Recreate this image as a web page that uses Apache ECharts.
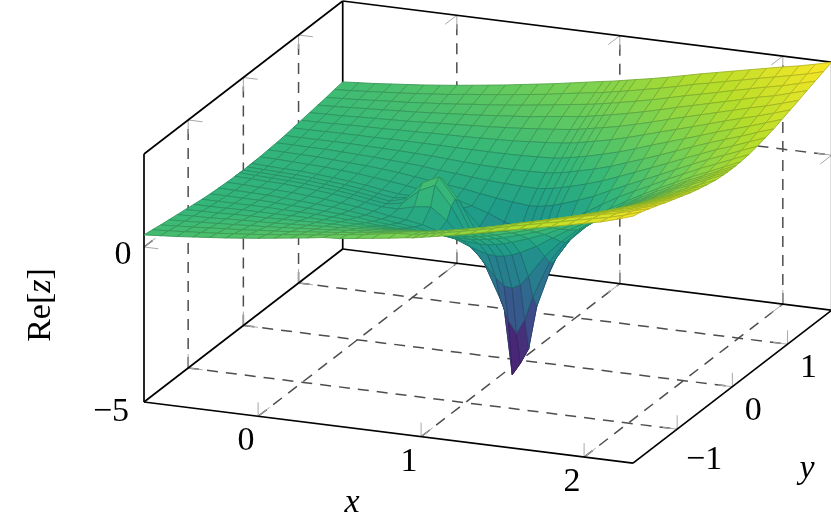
<!DOCTYPE html>
<html>
<head>
<meta charset="utf-8">
<style>html,body{margin:0;padding:0;background:#fff}#c{width:831px;height:525px}</style>
<script src="https://cdn.jsdelivr.net/npm/echarts@6/dist/echarts.min.js"></script>
</head>
<body>
<div id="c"></div>
<script>
const xValues = [-0.7,-0.6,-0.5,-0.4,-0.3,-0.2,-0.1,0,0.1,0.2,0.3,0.4,0.5,0.6,0.7,0.8,0.9,0.95,1,1.05,1.1,1.2,1.3,1.4,1.5,1.6,1.7,1.8,1.9,2,2.1,2.2,2.3];
const yValues = [1.8,1.65,1.5,1.35,1.2,1.05,0.9,0.75,0.6,0.45,0.3,0.15,0.07,0,-0.07,-0.15,-0.3,-0.45,-0.6,-0.75,-0.9,-1.05,-1.2,-1.35,-1.5,-1.65,-1.8];
const zValues = [
[.39,.43,.47,.52,.57,.62,.68,.74,.81,.88,.95,1.03,1.11,1.19,1.28,1.37,1.46,1.50,1.55,1.60,1.65,1.75,1.86,1.98,2.10,2.21,2.32,2.43,2.54,2.65,2.75,2.87,3.0],
[.35,.38,.42,.46,.50,.55,.60,.65,.72,.78,.84,.91,.98,1.05,1.14,1.22,1.30,1.34,1.39,1.44,1.49,1.60,1.71,1.83,1.96,2.07,2.19,2.30,2.42,2.53,2.64,2.76,2.90],
[.30,.33,.36,.40,.44,.47,.52,.56,.61,.67,.72,.78,.84,.91,.98,1.06,1.13,1.17,1.22,1.27,1.32,1.43,1.54,1.67,1.80,1.92,2.04,2.17,2.29,2.41,2.52,2.66,2.80],
[.26,.28,.31,.34,.37,.40,.43,.47,.51,.55,.59,.64,.69,.74,.81,.88,.94,.98,1.03,1.08,1.13,1.24,1.36,1.49,1.63,1.76,1.89,2.02,2.15,2.29,2.40,2.55,2.70],
[.22,.24,.25,.28,.30,.32,.34,.37,.40,.43,.46,.49,.53,.57,.62,.67,.73,.77,.82,.87,.92,1.03,1.16,1.30,1.45,1.59,1.73,1.87,2.01,2.15,2.28,2.43,2.59],
[.18,.19,.20,.22,.23,.24,.26,.27,.29,.30,.31,.33,.35,.37,.41,.45,.50,.53,.58,.63,.69,.80,.94,1.09,1.25,1.40,1.55,1.71,1.87,2.02,2.16,2.32,2.49],
[.14,.14,.15,.16,.16,.16,.17,.17,.17,.17,.16,.16,.16,.16,.17,.19,.22,.25,.30,.35,.41,.54,.68,.85,1.03,1.20,1.37,1.54,1.72,1.88,2.04,2.21,2.39],
[.10,.10,.10,.10,.10,.09,.08,.07,.05,.03,.00,-.03,-.06,-.07,-.08,-.07,-.05,-.02,.02,.08,.14,.27,.42,.61,.79,.98,1.18,1.38,1.57,1.75,1.92,2.11,2.29],
[.07,.07,.06,.06,.04,.02,.00,-.03,-.06,-.10,-.16,-.20,-.25,-.29,-.32,-.34,-.35,-.32,-.28,-.22,-.16,-.01,.16,.36,.57,.78,.99,1.21,1.42,1.63,1.81,2.01,2.21],
[.05,.04,.03,.02,-.01,-.04,-.07,-.11,-.16,-.23,-.29,-.36,-.42,-.51,-.59,-.65,-.70,-.69,-.65,-.59,-.51,-.33,-.13,.12,.36,.59,.82,1.06,1.29,1.52,1.72,1.93,2.14],
[.03,.02,.00,-.02,-.04,-.08,-.12,-.18,-.24,-.31,-.40,-.46,-.55,-.70,-.87,-1.08,-1.24,-1.26,-1.23,-1.16,-1.05,-.78,-.44,-.12,.18,.44,.69,.95,1.19,1.43,1.64,1.86,2.08],
[.02,.00,-.02,-.03,-.07,-.11,-.16,-.22,-.30,-.37,-.38,-.24,-.18,-.56,-1.09,-1.59,-2.21,-2.43,-2.47,-2.33,-2.02,-1.31,-.77,-.33,.02,.32,.60,.87,1.12,1.37,1.59,1.82,2.05],
[.02,.00,-.02,-.04,-.07,-.12,-.16,-.23,-.31,-.39,-.30,.16,.41,-.22,-1.11,-1.89,-2.99,-3.67,-4.05,-3.57,-2.80,-1.62,-.90,-.40,-.04,.30,.58,.85,1.10,1.35,1.58,1.81,2.04],
[.01,.00,-.02,-.04,-.07,-.12,-.17,-.24,-.32,-.40,-.25,.33,.58,-.07,-1.10,-1.99,-3.39,-5.5,-5.1,-4.6,-3.20,-1.72,-.94,-.44,-.05,.29,.57,.84,1.09,1.35,1.58,1.81,2.04],
[.02,.00,-.02,-.04,-.07,-.12,-.16,-.23,-.31,-.39,-.30,.16,.41,-.22,-1.11,-1.89,-2.99,-3.67,-4.05,-3.57,-2.80,-1.62,-.90,-.40,-.04,.30,.58,.85,1.10,1.35,1.58,1.81,2.04],
[.02,.00,-.02,-.03,-.07,-.11,-.16,-.22,-.30,-.37,-.38,-.24,-.18,-.56,-1.09,-1.59,-2.21,-2.43,-2.47,-2.33,-2.02,-1.31,-.77,-.33,.02,.32,.60,.87,1.12,1.37,1.59,1.82,2.05],
[.03,.02,.00,-.02,-.04,-.08,-.12,-.18,-.24,-.31,-.40,-.46,-.55,-.70,-.87,-1.08,-1.24,-1.26,-1.23,-1.16,-1.05,-.78,-.44,-.12,.18,.44,.69,.95,1.19,1.43,1.64,1.86,2.08],
[.05,.04,.03,.02,-.01,-.04,-.07,-.11,-.16,-.23,-.29,-.36,-.42,-.51,-.59,-.65,-.70,-.69,-.65,-.59,-.51,-.33,-.13,.12,.36,.59,.82,1.06,1.29,1.52,1.72,1.93,2.14],
[.07,.07,.06,.06,.04,.02,.00,-.03,-.06,-.10,-.16,-.20,-.25,-.29,-.32,-.34,-.35,-.32,-.28,-.22,-.16,-.01,.16,.36,.57,.78,.99,1.21,1.42,1.63,1.81,2.01,2.21],
[.10,.10,.10,.10,.10,.09,.08,.07,.05,.03,.00,-.03,-.06,-.07,-.08,-.07,-.05,-.02,.02,.08,.14,.27,.42,.61,.79,.98,1.18,1.38,1.57,1.75,1.92,2.11,2.29],
[.14,.14,.15,.16,.16,.16,.17,.17,.17,.17,.16,.16,.16,.16,.17,.19,.22,.25,.30,.35,.41,.54,.68,.85,1.03,1.20,1.37,1.54,1.72,1.88,2.04,2.21,2.39],
[.18,.19,.20,.22,.23,.24,.26,.27,.29,.30,.31,.33,.35,.37,.41,.45,.50,.53,.58,.63,.69,.80,.94,1.09,1.25,1.40,1.55,1.71,1.87,2.02,2.16,2.32,2.49],
[.22,.24,.25,.28,.30,.32,.34,.37,.40,.43,.46,.49,.53,.57,.62,.67,.73,.77,.82,.87,.92,1.03,1.16,1.30,1.45,1.59,1.73,1.87,2.01,2.15,2.28,2.43,2.59],
[.26,.28,.31,.34,.37,.40,.43,.47,.51,.55,.59,.64,.69,.74,.81,.88,.94,.98,1.03,1.08,1.13,1.24,1.36,1.49,1.63,1.76,1.89,2.02,2.15,2.29,2.40,2.55,2.70],
[.30,.33,.36,.40,.44,.47,.52,.56,.61,.67,.72,.78,.84,.91,.98,1.06,1.13,1.17,1.22,1.27,1.32,1.43,1.54,1.67,1.80,1.92,2.04,2.17,2.29,2.41,2.52,2.66,2.80],
[.35,.38,.42,.46,.50,.55,.60,.65,.72,.78,.84,.91,.98,1.05,1.14,1.22,1.25,1.29,1.34,1.39,1.44,1.55,1.66,1.78,1.91,2.02,2.14,2.25,2.37,2.48,2.59,2.73,2.90],
[.39,.43,.47,.52,.57,.62,.68,.74,.81,.88,.95,1.03,1.06,1.13,1.20,1.27,1.35,1.38,1.43,1.48,1.53,1.63,1.74,1.86,1.98,2.09,2.20,2.31,2.42,2.54,2.65,2.80,2.97]
];
const xTicks = [0,1,2];
const yTicks = [-1,0,1];
const zTicks = [-5,0];
const xRange = [-0.7,2.3], yRange = [-1.8,1.8], zRange = [-5,3];
const viridis = ['#440154','#482878','#3e4a89','#31688e','#26828e','#1f9e89','#35b779','#6ece58','#b5de2b','#fde725'];
const colorRange = [-5.5,3];

const [x0,x1]=xRange,[y0,y1]=yRange,[z0,z1]=zRange;
function project(x,y,z){
  return [144+163*(x-x0)+55.2*(y-y0), 402+20.4*(x-x0)-42.5*(y-y0)-31*(z-z0)];
}
function hex(c){return [1,3,5].map(k=>parseInt(c.substr(k,2),16));}
function colorOf(z,dark){
  let t=(z-colorRange[0])/(colorRange[1]-colorRange[0]);
  t=Math.max(0,Math.min(1,t))*(viridis.length-1);
  const i=Math.min(viridis.length-2,Math.floor(t)),f=t-i;
  const a=hex(viridis[i]),b=hex(viridis[i+1]);
  const m=a.map((v,k)=>Math.round((v+(b[k]-v)*f)*dark));
  return 'rgb('+m.join(',')+')';
}

const gridLines=[],tickMarks=[];
const dx=0.088,dy=0.21,dz=0.45;
function tick(x,y,z,a,b,c){tickMarks.push([x,y,z,x+a,y+b,z+c]);}
xTicks.forEach(x=>{
  gridLines.push([x,y0,z0,x,y1,z0],[x,y1,z0,x,y1,z1]);
  tick(x,y0,z0,0,dy,0);tick(x,y0,z0,0,0,dz);
  tick(x,y1,z0,0,-dy,0);tick(x,y1,z0,0,0,dz);
  tick(x,y1,z1,0,-dy,0);tick(x,y1,z1,0,0,-dz);
});
yTicks.forEach(y=>{
  gridLines.push([x0,y,z0,x1,y,z0],[x0,y,z0,x0,y,z1]);
  tick(x1,y,z0,-dx,0,0);tick(x1,y,z0,0,0,dz);
  tick(x0,y,z0,dx,0,0);tick(x0,y,z0,0,0,dz);
  tick(x0,y,z1,dx,0,0);tick(x0,y,z1,0,0,-dz);
});
zTicks.filter(z=>z>z0).forEach(z=>{
  gridLines.push([x0,y0,z,x0,y1,z],[x0,y1,z,x1,y1,z]);
  tick(x0,y0,z,dx,0,0);tick(x0,y0,z,0,dy,0);
  tick(x1,y1,z,-dx,0,0);tick(x1,y1,z,0,-dy,0);
});
const backFrame=[
  [x0,y0,z0,x0,y1,z0],[x0,y1,z0,x1,y1,z0],[x0,y1,z0,x0,y1,z1],
  [x0,y0,z1,x0,y1,z1],[x0,y1,z1,x1,y1,z1],[x0,y0,z0,x0,y0,z1],[x1,y1,z0,x1,y1,z1]
];
const frontFrame=[[x0,y0,z0,x1,y0,z0],[x1,y0,z0,x1,y1,z0]];

function lineSeries(data,style,z){
  return {type:'custom',coordinateSystem:'cartesian2d',z:z,silent:true,clip:false,animation:false,
    data:data.map((s,i)=>[i]),
    renderItem(params,api){
      const s=data[api.value(0)];
      const a=api.coord(project(s[0],s[1],s[2])),b=api.coord(project(s[3],s[4],s[5]));
      return {type:'line',shape:{x1:a[0],y1:a[1],x2:b[0],y2:b[1]},style:style};
    }};
}

const cells=[];
for(let j=0;j<yValues.length-1;j++)for(let i=0;i<xValues.length-1;i++)cells.push([i,j]);

const surface={type:'custom',coordinateSystem:'cartesian2d',z:3,silent:true,clip:false,animation:false,
  data:cells,
  renderItem(params,api){
    const i=api.value(0),j=api.value(1);
    const corners=[[i,j],[i+1,j],[i+1,j+1],[i,j+1]];
    let sum=0;
    const pts=corners.map(([a,b])=>{const z=zValues[b][a];sum+=z;return api.coord(project(xValues[a],yValues[b],z));});
    const m=sum/4;
    return {type:'polygon',shape:{points:pts},style:{fill:colorOf(m,1),stroke:colorOf(m,0.8),lineWidth:0.9,lineJoin:'round'}};
  }};

const FONT='"Liberation Serif","DejaVu Serif",serif';
const FS=34;
const labels=[];
xTicks.forEach(x=>{const p=project(x,y0,z0);labels.push({t:String(x),dx:-12,dy:25,p});});
yTicks.forEach(y=>{const p=project(x1,y,z0);labels.push({t:String(y).replace('-','\u2212'),dx:y<0?27:21,dy:y<0?31:24,p});});
zTicks.forEach(z=>{const p=project(x0,y0,z);labels.push({t:String(z).replace('-','\u2212'),dx:z<0?-33:-21,dy:z<0?10:8,p});});
const axisNames=[
  {t:'x',x:352,y:503,it:true},
  {t:'y',x:807,y:469,it:true},
  {t:'Re[{i|z}]',x:41,y:305,rot:Math.PI/2}
];
const textSeries={type:'custom',coordinateSystem:'cartesian2d',z:5,silent:true,clip:false,animation:false,
  data:labels.concat(axisNames).map((s,i)=>[i]),
  renderItem(params,api){
    const n=api.value(0);
    if(n<labels.length){
      const l=labels[n],c=api.coord([l.p[0]+l.dx,l.p[1]+l.dy]);
      return {type:'text',style:{text:l.t,x:c[0],y:c[1],font:FS+'px '+FONT,fill:'#000',align:'center',verticalAlign:'middle'}};
    }
    const a=axisNames[n-labels.length],c=api.coord([a.x,a.y]);
    return {type:'text',x:c[0],y:c[1],rotation:a.rot||0,style:{text:a.t,x:0,y:0,
      font:(a.it?'italic ':'')+FS+'px '+FONT,fill:'#000',align:'center',verticalAlign:'middle',
      rich:{i:{fontStyle:'italic',fontFamily:FONT,fontSize:FS}}}};
  }};

const chart=echarts.init(document.getElementById('c'),null,{renderer:'canvas'});
chart.setOption({
  animation:false,
  backgroundColor:'#fff',
  grid:{left:0,right:0,top:0,bottom:0},
  xAxis:{type:'value',min:0,max:831,show:false},
  yAxis:{type:'value',min:0,max:525,inverse:true,show:false},
  series:[
    lineSeries(gridLines,{stroke:'#4d4d4d',lineWidth:1.5,lineDash:[11,8],fill:null},1),
    lineSeries(tickMarks,{stroke:'#a8a8a8',lineWidth:1,fill:null},1),
    lineSeries(backFrame,{stroke:'#000',lineWidth:1.7,fill:null},2),
    surface,
    lineSeries(frontFrame,{stroke:'#000',lineWidth:1.7,fill:null},4),
    textSeries
  ]
});
</script>
</body>
</html>
